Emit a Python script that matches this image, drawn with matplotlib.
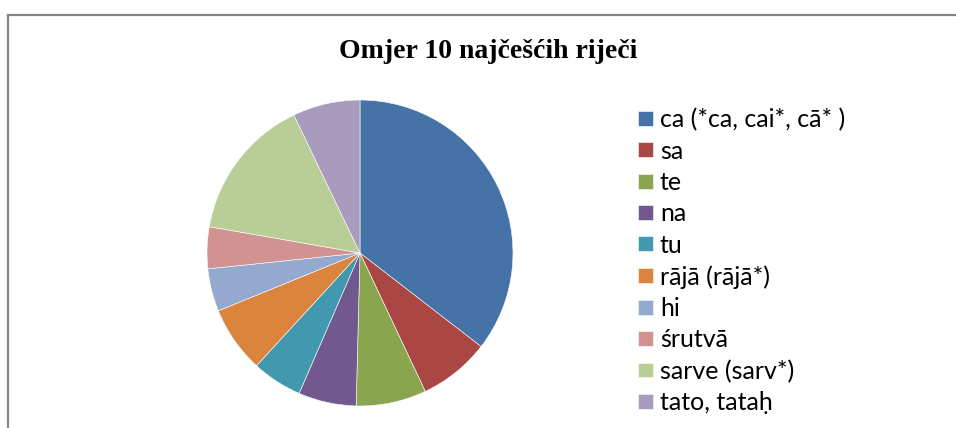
import matplotlib
matplotlib.use("Agg")
import matplotlib.pyplot as plt
from matplotlib.lines import Line2D

labels = ["ca (*ca, cai*, cā* )", "sa", "te", "na", "tu", "rājā (rājā*)", "hi",
          "śrutvā", "sarve (sarv*)", "tato, tataḥ"]
values = [35.4, 7.5, 7.4, 6.1, 5.3, 7.0, 4.5, 4.4, 15.1, 7.1]
colors = ["#4572A7", "#AA4643", "#89A54E", "#71588F", "#4198AF", "#DB843D",
          "#93A9CF", "#D19392", "#B9CD96", "#A99BBD"]
title = "Omjer 10 najčešćih riječi"

W, H = 956, 428
fig = plt.figure(figsize=(W / 100, H / 100), dpi=100)

# frame (only left and top visible)
fig.add_artist(Line2D([8 / W, 8 / W], [0, 1 - 15 / H], color="#868686", lw=1.6))
fig.add_artist(Line2D([8 / W, 1], [1 - 15 / H, 1 - 15 / H], color="#868686", lw=1.6))

cx, cy, r = 360, 253, 153
ax = fig.add_axes([(cx - r) / W, (H - cy - r) / H, 2 * r / W, 2 * r / H])
wedges, _ = ax.pie(values, colors=colors, startangle=90, counterclock=False,
                   radius=1, wedgeprops=dict(edgecolor="white", linewidth=0.4))
ax.set_xlim(-1, 1)
ax.set_ylim(-1, 1)
ax.set_aspect("equal")
ax.axis("off")

fig.text(488 / W, 1 - 52 / H, title, ha="center", va="center",
         fontsize=20, fontweight="bold", family=["Liberation Serif", "DejaVu Serif"])

fig.legend(wedges, labels, loc="upper left", bbox_to_anchor=(638 / W, 1 - 108 / H),
           frameon=False, handlelength=0.6, handleheight=0.53, handletextpad=0.28,
           labelspacing=0.334, borderpad=0, borderaxespad=0,
           prop=dict(family=["Lato", "DejaVu Sans"], size=18))

fig.savefig("out.png", dpi=100)
